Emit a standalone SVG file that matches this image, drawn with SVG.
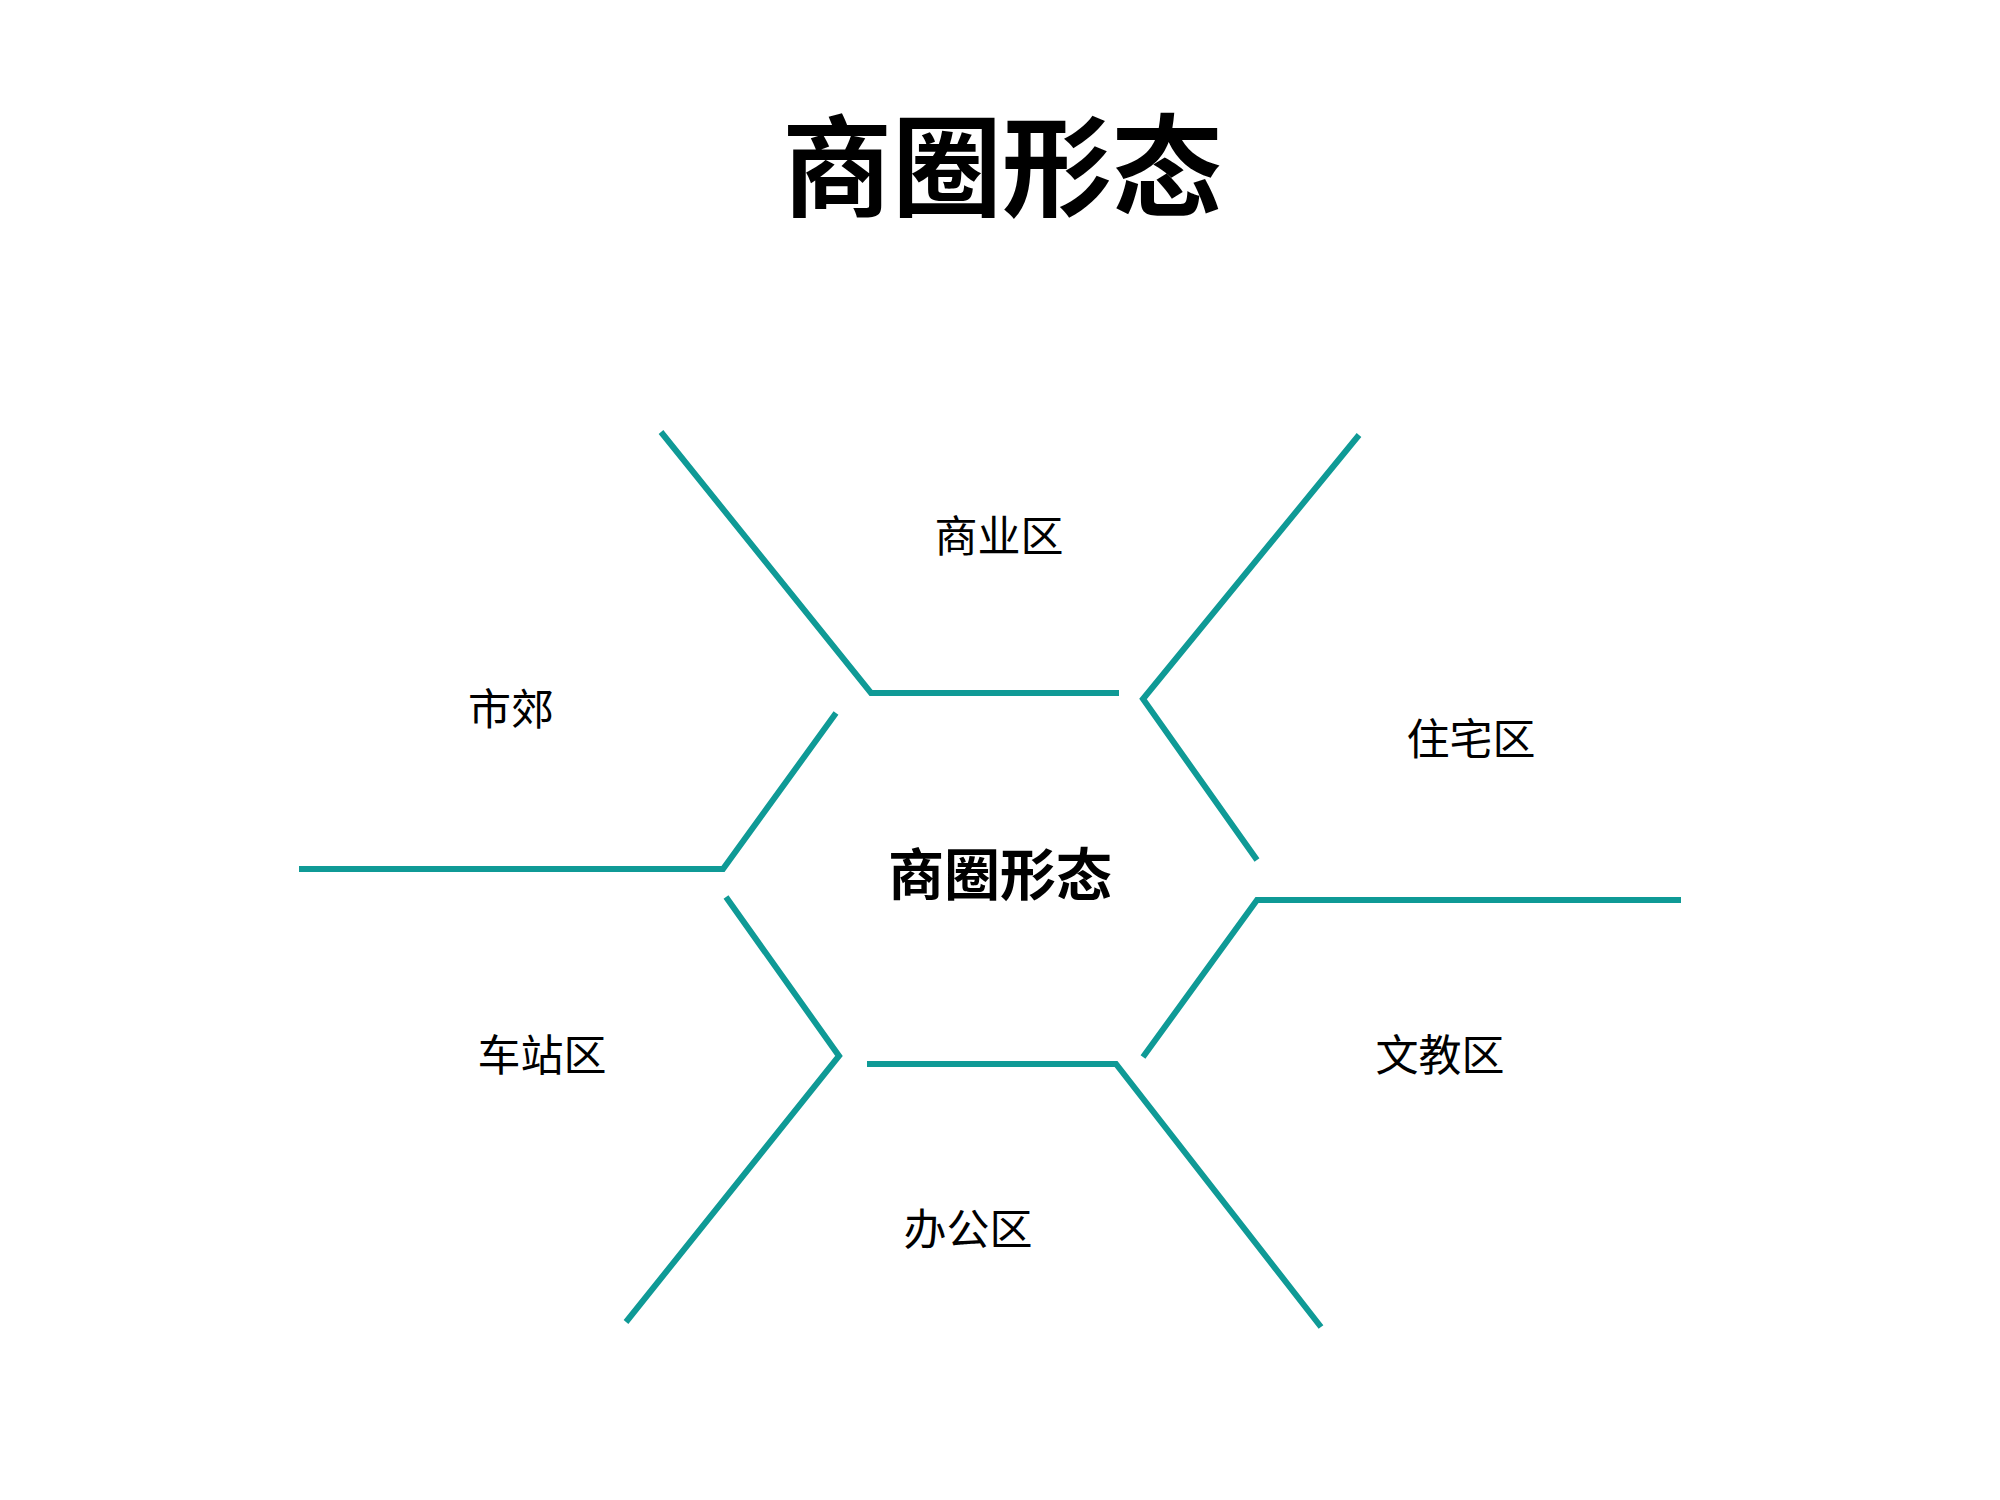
<svg xmlns="http://www.w3.org/2000/svg" width="2000" height="1500" viewBox="0 0 2000 1500">
<style>
.ln{fill:none;stroke:#0f9a96;stroke-width:6;stroke-linejoin:miter}
.lb{font-family:"Liberation Serif","Noto Sans CJK SC",serif;font-size:43px;fill:#000;text-anchor:middle}
.ttl{font-family:"Liberation Serif","Noto Sans CJK SC",serif;font-size:110px;font-weight:bold;fill:#000;text-anchor:middle}
.ctr{font-family:"Liberation Serif","Noto Sans CJK SC",serif;font-size:56px;font-weight:bold;fill:#000;text-anchor:middle}
</style>
<rect width="2000" height="1500" fill="#fff"/>
<g id="title"><text class="ttl" x="1002" y="208">商圈形态</text></g>
<g id="connectors">
<polyline class="ln" points="661,432 871,693 1119,693"/>
<polyline class="ln" points="1359,435 1143,699 1257,860"/>
<polyline class="ln" points="299,869 723,869 836,713"/>
<polyline class="ln" points="726,897 839,1056 626,1322"/>
<polyline class="ln" points="867,1064 1116,1064 1321,1327"/>
<polyline class="ln" points="1681,900 1257,900 1143,1057"/>
</g>
<g id="center"><text class="ctr" x="1000" y="895">商圈形态</text></g>
<g id="n-shangye"><text class="lb" x="999" y="552">商业区</text></g>
<g id="n-shijiao"><text class="lb" x="511" y="725">市郊</text></g>
<g id="n-zhuzhai"><text class="lb" x="1471" y="755">住宅区</text></g>
<g id="n-chezhan"><text class="lb" x="542" y="1071">车站区</text></g>
<g id="n-wenjiao"><text class="lb" x="1440" y="1071">文教区</text></g>
<g id="n-bangong"><text class="lb" x="968" y="1245">办公区</text></g>
</svg>
